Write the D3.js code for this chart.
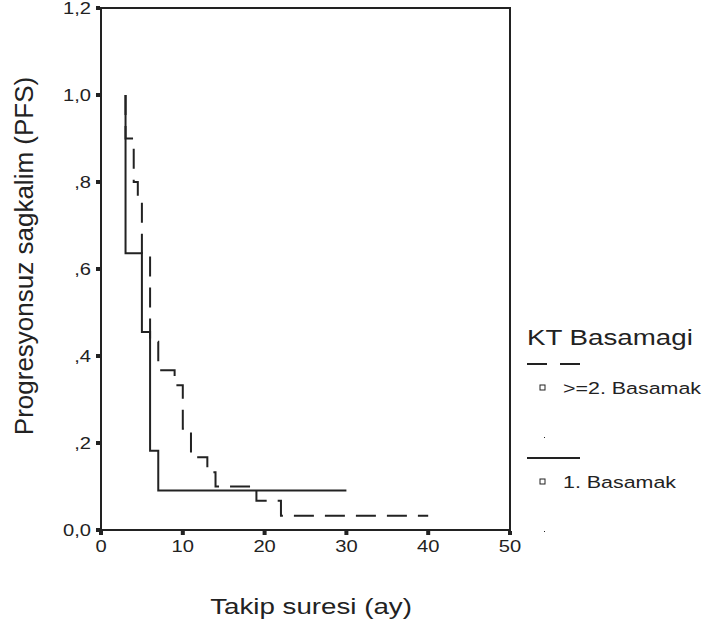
<!DOCTYPE html>
<html>
<head>
<meta charset="utf-8">
<script src="https://cdn.jsdelivr.net/npm/d3@7"></script>
<style>
  body { margin: 0; background: #fff; }
  text { font-family: "Liberation Sans", Arial, sans-serif; fill: #222; }
</style>
</head>
<body>
<svg id="chart" width="707" height="631"></svg>
<script>
// Kaplan-Meier steps: [time, survival after the step]
var stepsBas1 = [[3, 1.0], [3, 0.636], [5, 0.455], [6, 0.182], [7, 0.091], [30, 0.091]];
var stepsBas2 = [[3, 1.0], [3, 0.9], [4, 0.8], [4.5, 0.767], [5, 0.633], [6, 0.433], [7, 0.367],
                 [9, 0.333], [10, 0.233], [11, 0.167], [13, 0.133], [14, 0.1], [19, 0.067], [22, 0.033], [40, 0.033]];
var yTicks = [0, 0.2, 0.4, 0.6, 0.8, 1.0, 1.2];
var yTickLabels = ["0,0", ",2", ",4", ",6", ",8", "1,0", "1,2"];
var xTicks = [0, 10, 20, 30, 40, 50];
var legendTitle = "KT Basamagi";
var legendLabels = [">=2. Basamak", "1. Basamak"];

var svg = d3.select("#chart"),
    margin = {top: 8, right: 197, bottom: 101, left: 101},
    width = +svg.attr("width") - margin.left - margin.right,
    height = +svg.attr("height") - margin.top - margin.bottom,
    g = svg.append("g").attr("transform", "translate(" + margin.left + "," + margin.top + ")");

var ink = "#222",
    sx = 1.26; // horizontal text in the original export is stretched

var x = d3.scaleLinear().domain([0, 50]).range([0, width]);
var y = d3.scaleLinear().domain([0, 1.2]).range([height, 0]);

function stretchedText(sel, px, py, str, size, anchor) {
    return sel.append("text")
        .attr("transform", "translate(" + px + "," + py + ") scale(" + sx + ",1)")
        .attr("text-anchor", anchor || "start")
        .attr("font-size", size)
        .text(str);
}

// frame
g.append("rect")
    .attr("width", width)
    .attr("height", height)
    .attr("fill", "none")
    .attr("stroke", ink)
    .attr("stroke-width", 2);

// y ticks
yTicks.forEach(function (v, i) {
    g.append("rect")
        .attr("x", -5).attr("y", y(v) - 2)
        .attr("width", 4).attr("height", 4)
        .attr("fill", ink);
    stretchedText(g, -10, y(v) + 6, yTickLabels[i], 16, "end");
});

// x ticks
xTicks.forEach(function (v) {
    g.append("rect")
        .attr("x", x(v) - 2).attr("y", height + 1)
        .attr("width", 4).attr("height", 4)
        .attr("fill", ink);
    stretchedText(g, x(v), height + 22, v, 16, "middle");
});

// curves
var line = d3.line()
    .x(function (d) { return x(d[0]); })
    .y(function (d) { return y(d[1]); })
    .curve(d3.curveStepAfter);

g.append("path")
    .datum(stepsBas1)
    .attr("d", line)
    .attr("fill", "none")
    .attr("stroke", ink)
    .attr("stroke-width", 2);

g.append("path")
    .datum(stepsBas2)
    .attr("d", line)
    .attr("fill", "none")
    .attr("stroke", ink)
    .attr("stroke-width", 2)
    .attr("stroke-dasharray", "20,11");

// axis titles
stretchedText(svg, 311, 614, "Takip suresi (ay)", 22, "middle");
svg.append("text")
    .attr("transform", "translate(33,256) rotate(-90)")
    .attr("text-anchor", "middle")
    .attr("font-size", 26)
    .text("Progresyonsuz sagkalim (PFS)");

// legend
var legend = svg.append("g").attr("transform", "translate(527,345)");
stretchedText(legend, 0, 0, legendTitle, 22);

legendLabels.forEach(function (lab, i) {
    var row = legend.append("g").attr("transform", "translate(0," + (19 + i * 94) + ")");
    row.append("line")
        .attr("x1", 0).attr("x2", 53)
        .attr("stroke", ink)
        .attr("stroke-width", 2)
        .attr("stroke-dasharray", i === 0 ? "20,13" : null);
    row.append("rect")
        .attr("x", 13).attr("y", 21)
        .attr("width", 5).attr("height", 5)
        .attr("fill", "none")
        .attr("stroke", ink)
        .attr("stroke-width", 1);
    stretchedText(row, 36, 30, lab, 17);
    row.append("rect")
        .attr("x", 17).attr("y", 73)
        .attr("width", 1).attr("height", 1)
        .attr("fill", ink);
});
</script>
</body>
</html>
